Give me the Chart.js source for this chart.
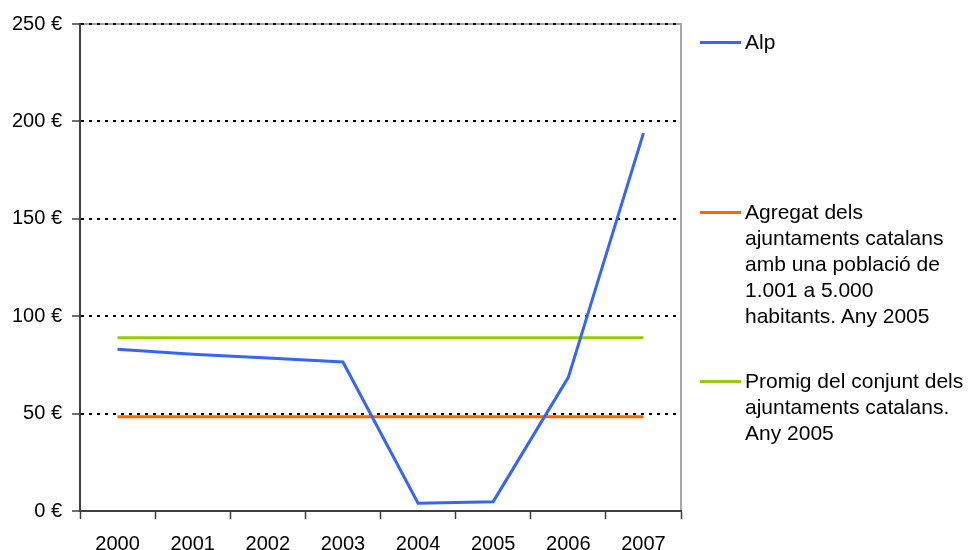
<!DOCTYPE html>
<html lang="ca">
<head>
<meta charset="utf-8">
<title>Alp</title>
<script src="https://cdn.jsdelivr.net/npm/chart.js@4/dist/chart.umd.min.js"></script>
<style>
  html, body { margin: 0; padding: 0; background: #fff; }
  #wrap { position: relative; width: 969px; height: 550px; overflow: hidden; }
  #chart { position: absolute; left: 0; top: 0; }
  .legend-item { position: absolute; left: 700px; font-family: "Liberation Sans", Arial, sans-serif; font-size: 21px; line-height: 26px; color: #000; }
  .legend-item .swatch { position: absolute; left: 0; top: 12px; width: 41px; height: 3px; }
  .legend-item .text { margin-left: 45px; white-space: nowrap; }
</style>
</head>
<body>
<div id="wrap">
  <canvas id="chart" width="969" height="550"></canvas>
  <div id="legend"></div>
</div>
<script>
// Years on the horizontal axis
const years = ['2000', '2001', '2002', '2003', '2004', '2005', '2006', '2007'];

// Alp (€ per inhabitant)
const alpValues = [83, 80.5, 78.5, 76.5, 4, 4.8, 68.6, 194];

// Reference levels for 2005, drawn across every year
const agregatValues = [48.4, 48.4, 48.4, 48.4, 48.4, 48.4, 48.4, 48.4];
const promigValues = [89, 89, 89, 89, 89, 89, 89, 89];

// Vertical axis ticks
const yTicks = [0, 50, 100, 150, 200, 250];

// Legend labels (one entry per line)
const legendLabels = [
  ['Alp'],
  ['Agregat dels', 'ajuntaments catalans', 'amb una població de', '1.001 a 5.000', 'habitants. Any 2005'],
  ['Promig del conjunt dels', 'ajuntaments catalans.', 'Any 2005']
];

const colors = ['#3366FF', '#FF6600', '#99CC00'];
const legendTops = [29, 199, 368];

const FONT = '"Liberation Sans", Arial, sans-serif';

// Light frame on the top and right of the plot area, under the grid lines
const frame = {
  id: 'frame',
  beforeDraw(chart) {
    const { ctx, chartArea: a } = chart;
    ctx.save();
    ctx.strokeStyle = '#A6A6A6';
    ctx.lineWidth = 2;
    ctx.beginPath();
    ctx.moveTo(a.left, a.top);
    ctx.lineTo(a.right, a.top);
    ctx.lineTo(a.right, a.bottom);
    ctx.stroke();
    ctx.restore();
  }
};

new Chart(document.getElementById('chart'), {
  type: 'line',
  data: {
    labels: years,
    datasets: [
      { label: legendLabels[0].join(' '), data: alpValues, borderColor: colors[0], borderWidth: 3, pointRadius: 0, tension: 0 },
      { label: legendLabels[1].join(' '), data: agregatValues, borderColor: colors[1], borderWidth: 3, pointRadius: 0 },
      { label: legendLabels[2].join(' '), data: promigValues, borderColor: colors[2], borderWidth: 3, pointRadius: 0 }
    ]
  },
  options: {
    responsive: false,
    animation: false,
    layout: { padding: { top: 24, right: 288, bottom: 0, left: 0 } },
    plugins: { legend: { display: false }, tooltip: { enabled: false } },
    scales: {
      x: {
        offset: true,
        grid: { display: true, drawOnChartArea: false, drawTicks: true, offset: true, tickLength: 8, tickColor: '#404040', tickWidth: 1.5 },
        border: { display: true, color: '#404040', width: 2 },
        ticks: { color: '#000', font: { family: FONT, size: 20 }, padding: 13, maxRotation: 0 },
        afterFit(scale) { scale.height = 39; }
      },
      y: {
        min: yTicks[0],
        max: yTicks[yTicks.length - 1],
        afterBuildTicks(scale) { scale.ticks = yTicks.map(v => ({ value: v })); },
        grid: {
          color: c => (c.tick && c.tick.value === 0 ? 'rgba(0,0,0,0)' : '#000'),
          lineWidth: 2,
          tickLength: 8,
          tickColor: '#404040',
          tickWidth: 1.5
        },
        border: { display: true, color: '#404040', width: 2, dash: [3, 5] },
        ticks: { color: '#000', font: { family: FONT, size: 20 }, padding: 10, callback: v => v + ' €' },
        afterFit(scale) { scale.width = 80; }
      }
    }
  },
  plugins: [frame]
});

// Legend on the right-hand side
const legendEl = document.getElementById('legend');
legendLabels.forEach((lines, i) => {
  const item = document.createElement('div');
  item.className = 'legend-item';
  item.style.top = legendTops[i] + 'px';
  const sw = document.createElement('div');
  sw.className = 'swatch';
  sw.style.background = colors[i];
  const tx = document.createElement('div');
  tx.className = 'text';
  tx.innerHTML = lines.join('<br>');
  item.appendChild(sw);
  item.appendChild(tx);
  legendEl.appendChild(item);
});
</script>
</body>
</html>
